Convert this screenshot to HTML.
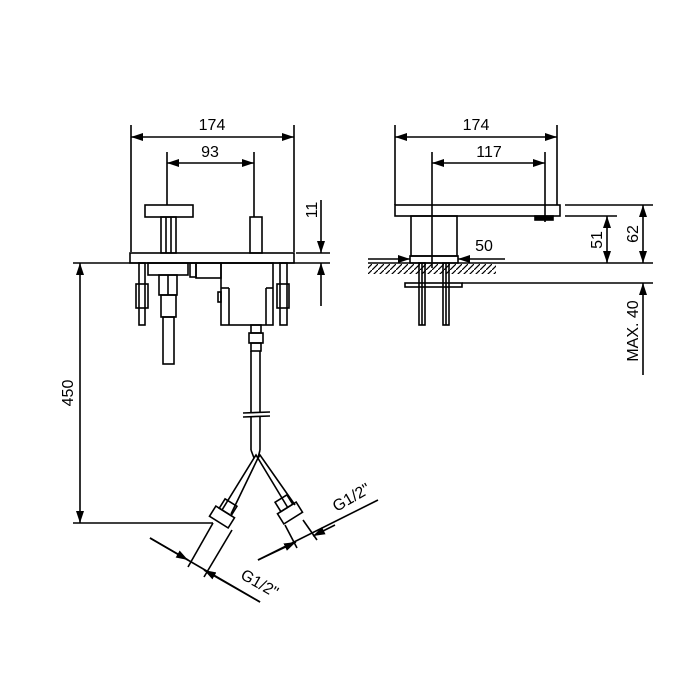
<!DOCTYPE html>
<html><head><style>body{margin:0;background:#fff}svg{display:block}</style></head><body>
<svg width="700" height="700" viewBox="0 0 700 700" xmlns="http://www.w3.org/2000/svg" font-family="Liberation Sans, sans-serif">
<defs>
<marker id="a" markerWidth="12" markerHeight="8" refX="12" refY="4" orient="auto-start-reverse" markerUnits="userSpaceOnUse"><path d="M0,0 L12,4 L0,8z" fill="#000"/></marker>
<pattern id="h" width="6" height="6" patternUnits="userSpaceOnUse"><path d="M0,6 L6,0" stroke="#000" stroke-width="1.2"/></pattern>
</defs>
<g stroke="#000" stroke-width="1.6" fill="none">
<line x1="131" y1="125" x2="131" y2="252"/><line x1="294" y1="125" x2="294" y2="252"/>
<line x1="131" y1="137" x2="294" y2="137" marker-start="url(#a)" marker-end="url(#a)"/>
<line x1="167" y1="152" x2="167" y2="205"/><line x1="254" y1="152" x2="254" y2="217"/>
<line x1="167" y1="163" x2="254" y2="163" marker-start="url(#a)" marker-end="url(#a)"/>
<rect x="130" y="253" width="164" height="10"/>
<line x1="73" y1="263" x2="330" y2="263"/>
<line x1="296" y1="253" x2="330" y2="253"/>
<rect x="145" y="205" width="48" height="12"/>
<rect x="161" y="217" width="15" height="36"/>
<line x1="166" y1="217" x2="166" y2="253"/><line x1="171" y1="217" x2="171" y2="253"/>
<rect x="250" y="217" width="12" height="36"/>
<rect x="139" y="263" width="6" height="62"/>
<rect x="136" y="284" width="12" height="24"/>
<rect x="148" y="263" width="40" height="12"/>
<rect x="159" y="275" width="18" height="20"/>
<line x1="168" y1="275" x2="168" y2="295"/>
<rect x="161" y="295" width="15" height="22"/>
<rect x="163" y="317" width="11" height="47"/>
<rect x="190" y="263" width="6" height="14"/>
<rect x="196" y="263" width="25" height="15"/>
<rect x="221" y="263" width="52" height="62"/>
<line x1="229" y1="288" x2="229" y2="325"/><line x1="266" y1="288" x2="266" y2="325"/>
<line x1="221" y1="288" x2="229" y2="288"/><line x1="266" y1="288" x2="273" y2="288"/>
<rect x="218" y="292" width="3" height="10"/>
<rect x="280" y="263" width="7" height="62"/>
<rect x="277" y="284" width="12" height="24"/>
<rect x="251" y="325" width="10" height="8"/>
<rect x="249" y="333" width="14" height="10"/>
<rect x="251" y="343" width="10" height="8"/>
<line x1="251" y1="351" x2="251" y2="413"/><line x1="260" y1="351" x2="260" y2="413"/>
<line x1="243" y1="413" x2="270" y2="412"/><line x1="243" y1="417" x2="270" y2="416"/>
<line x1="251" y1="417" x2="251" y2="450"/><line x1="260" y1="417" x2="260" y2="450"/>
<path d="M251,450 L254,458 L222,510 M260,450 L258,458 L231,514"/>
<path d="M254,458 L256,455 L288,508 M258,458 L260,455 L295,505"/>
<g transform="rotate(32 222 517)"><rect x="211" y="511" width="22" height="12"/><rect x="215" y="500" width="14" height="11"/></g>
<g transform="rotate(-32 290 513)"><rect x="279" y="507" width="22" height="12"/><rect x="283" y="496" width="14" height="11"/></g>
<line x1="80" y1="263" x2="80" y2="523" marker-start="url(#a)" marker-end="url(#a)"/>
<line x1="73" y1="523" x2="213" y2="523"/>
<line x1="321" y1="200" x2="321" y2="253" marker-end="url(#a)"/>
<line x1="321" y1="306" x2="321" y2="263" marker-end="url(#a)"/>
<line x1="213" y1="523" x2="188" y2="567"/><line x1="232" y1="530" x2="204" y2="577"/>
<line x1="150" y1="538" x2="260" y2="602"/>
<line x1="150" y1="538" x2="188" y2="560" marker-end="url(#a)"/>
<line x1="260" y1="602" x2="204" y2="570" marker-end="url(#a)"/>
<line x1="285" y1="525" x2="297" y2="548"/><line x1="303" y1="520" x2="317" y2="540"/>
<line x1="258" y1="560" x2="378" y2="500"/>
<line x1="258" y1="560" x2="296" y2="542" marker-end="url(#a)"/>
<line x1="335" y1="525" x2="313" y2="536" marker-end="url(#a)"/>
<line x1="395" y1="125" x2="395" y2="205"/><line x1="557" y1="125" x2="557" y2="205"/>
<line x1="395" y1="137" x2="557" y2="137" marker-start="url(#a)" marker-end="url(#a)"/>
<line x1="432" y1="152" x2="432" y2="268"/><line x1="545" y1="152" x2="545" y2="222"/>
<line x1="432" y1="163" x2="545" y2="163" marker-start="url(#a)" marker-end="url(#a)"/>
<rect x="395" y="205" width="165" height="11"/>
<rect x="535" y="216" width="18" height="4" fill="#000"/>
<rect x="411" y="216" width="46" height="40"/>
<rect x="410" y="256" width="48" height="7"/>
<rect x="368" y="264" width="128" height="10" fill="url(#h)" stroke="none"/>
<line x1="368" y1="263" x2="653" y2="263"/>
<rect x="405" y="283" width="57" height="4"/>
<line x1="462" y1="283" x2="653" y2="283"/>
<rect x="419" y="263" width="6" height="62"/><rect x="443" y="263" width="6" height="62"/>
<line x1="422" y1="263" x2="422" y2="325"/><line x1="446" y1="263" x2="446" y2="325"/>
<line x1="368" y1="259" x2="410" y2="259" marker-end="url(#a)"/>
<line x1="505" y1="259" x2="458" y2="259" marker-end="url(#a)"/>
<line x1="565" y1="216" x2="617" y2="216"/><line x1="565" y1="205" x2="653" y2="205"/>
<line x1="607" y1="216" x2="607" y2="263" marker-start="url(#a)" marker-end="url(#a)"/>
<line x1="643" y1="205" x2="643" y2="263" marker-start="url(#a)" marker-end="url(#a)"/>
<line x1="643" y1="375" x2="643" y2="283" marker-end="url(#a)"/>
</g>
<g font-size="16" fill="#000">
<text x="212" y="130" text-anchor="middle">174</text>
<text x="210" y="157" text-anchor="middle">93</text>
<text x="476" y="130" text-anchor="middle">174</text>
<text x="489" y="157" text-anchor="middle">117</text>
<text x="484" y="251" text-anchor="middle">50</text>
<text transform="translate(317,210) rotate(-90)" text-anchor="middle">11</text>
<text transform="translate(73,393) rotate(-90)" text-anchor="middle">450</text>
<text transform="translate(602,240) rotate(-90)" text-anchor="middle">51</text>
<text transform="translate(638,234) rotate(-90)" text-anchor="middle">62</text>
<text transform="translate(638,331) rotate(-90)" text-anchor="middle">MAX. 40</text>
<text transform="translate(257,588) rotate(30)" text-anchor="middle">G1/2"</text>
<text transform="translate(354,502) rotate(-30)" text-anchor="middle">G1/2"</text>
</g>
</svg>
</body></html>
